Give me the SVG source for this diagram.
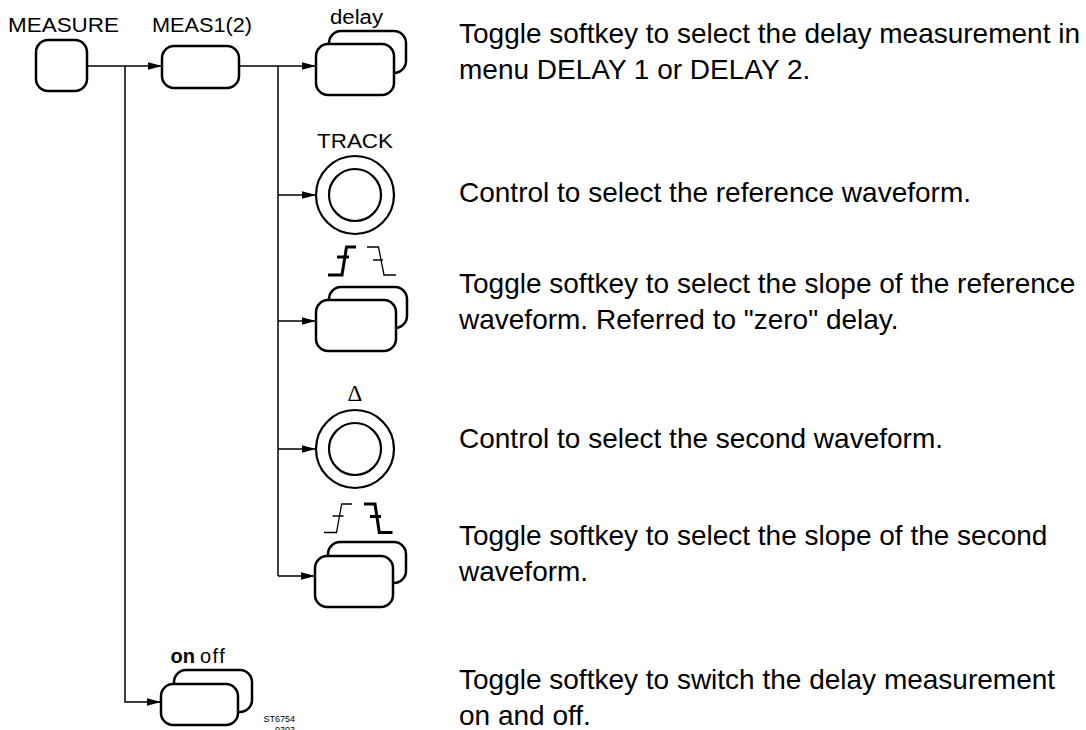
<svg xmlns="http://www.w3.org/2000/svg" width="1086" height="730" viewBox="0 0 1086 730">
<style>
.bx{fill:#fff;stroke:#000;stroke-width:2.5}
.kn{fill:#fff;stroke:#000;stroke-width:2.2}
.ln{fill:none;stroke:#000;stroke-width:1.5}
.sl{fill:none;stroke:#000;stroke-width:1.3;stroke-linejoin:miter}
.slb{fill:none;stroke:#000;stroke-width:3;stroke-linejoin:miter}
.lb{font-family:"Liberation Sans",Arial,sans-serif;font-size:20px;fill:#000}
.tx{font-family:"Liberation Sans",Arial,sans-serif;font-size:28px;fill:#000}
.sm{font-family:"Liberation Sans",Arial,sans-serif;font-size:9px;fill:#000}
</style>
<defs>
<marker id="ar" markerUnits="userSpaceOnUse" markerWidth="15" markerHeight="9" refX="14" refY="4.5" orient="auto">
<path d="M0,0.8 L14,4.5 L0,8.2 z" fill="#000"/>
</marker>
</defs>
<rect width="1086" height="730" fill="#fff"/>

<g id="connectors">
<line class="ln" x1="87" y1="66" x2="162" y2="66" marker-end="url(#ar)"/>
<path class="ln" d="M125,66 V702 H161" marker-end="url(#ar)"/>
<line class="ln" x1="239" y1="66" x2="316" y2="66" marker-end="url(#ar)"/>
<line class="ln" x1="278" y1="66" x2="278" y2="576"/>
<line class="ln" x1="278" y1="195" x2="316" y2="195" marker-end="url(#ar)"/>
<line class="ln" x1="278" y1="321" x2="316" y2="321" marker-end="url(#ar)"/>
<line class="ln" x1="278" y1="449" x2="316" y2="449" marker-end="url(#ar)"/>
<line class="ln" x1="278" y1="576" x2="315" y2="576" marker-end="url(#ar)"/>
</g>

<g id="measure">
<text class="lb" x="8" y="32" textLength="111" lengthAdjust="spacingAndGlyphs">MEASURE</text>
<rect class="bx" x="36" y="40" width="51" height="51" rx="12"/>
</g>

<g id="meas12">
<text class="lb" x="152" y="32" textLength="100" lengthAdjust="spacingAndGlyphs">MEAS1(2)</text>
<rect class="bx" x="162" y="46" width="77" height="42" rx="12"/>
</g>

<g id="delay">
<text class="lb" x="330" y="24" textLength="53" lengthAdjust="spacingAndGlyphs">delay</text>
<rect class="bx" x="329" y="31" width="77" height="42" rx="12"/>
<rect class="bx" x="316" y="44" width="78" height="51" rx="12"/>
</g>

<g id="track">
<text class="lb" x="317" y="148" font-size="21" textLength="76" lengthAdjust="spacingAndGlyphs">TRACK</text>
<circle class="kn" cx="355" cy="195" r="39"/>
<circle class="kn" cx="355" cy="195" r="26"/>
</g>

<g id="slope-ref">
<path class="slb" d="M328,275 H342 L346.5,247 H356 M337,257 H349"/>
<path class="sl" d="M367,247 H378.5 L384,275 H396 M373,260 H383"/>
<rect class="bx" x="329" y="287" width="78" height="41" rx="12"/>
<rect class="bx" x="316" y="300" width="80" height="51" rx="12"/>
</g>

<g id="delta">
<text x="355" y="401" text-anchor="middle" font-family="Liberation Serif,Times New Roman,serif" font-size="23" fill="#000">Δ</text>
<circle class="kn" cx="355" cy="449" r="39"/>
<circle class="kn" cx="355" cy="449" r="26"/>
</g>

<g id="slope-second">
<path class="sl" d="M324,532.5 H336.5 L341.7,504 H352 M332.5,516 H343.5"/>
<path class="slb" d="M364,504 H375 L379.3,532.5 H392.5 M370,516.5 H381"/>
<rect class="bx" x="328" y="542" width="78" height="41" rx="12"/>
<rect class="bx" x="315" y="556" width="78" height="51" rx="12"/>
</g>

<g id="onoff">
<text class="lb" x="170.5" y="663" font-size="21"><tspan font-weight="bold">on</tspan><tspan x="200" letter-spacing="1.5">off</tspan></text>
<rect class="bx" x="174" y="670" width="78" height="42" rx="12"/>
<rect class="bx" x="161" y="684" width="77" height="41" rx="12"/>
</g>

<g id="code">
<text class="sm" x="295" y="722" text-anchor="end">ST6754</text>
<text class="sm" x="295" y="733" text-anchor="end">9303</text>
</g>

<g id="descriptions">
<text class="tx" x="459" y="43">Toggle softkey to select the delay measurement in</text>
<text class="tx" x="459" y="79">menu DELAY 1 or DELAY 2.</text>
<text class="tx" x="459" y="202">Control to select the reference waveform.</text>
<text class="tx" x="459" y="293">Toggle softkey to select the slope of the reference</text>
<text class="tx" x="459" y="329">waveform. Referred to "zero" delay.</text>
<text class="tx" x="459" y="448">Control to select the second waveform.</text>
<text class="tx" x="459" y="545">Toggle softkey to select the slope of the second</text>
<text class="tx" x="459" y="581">waveform.</text>
<text class="tx" x="459" y="689">Toggle softkey to switch the delay measurement</text>
<text class="tx" x="459" y="725">on and off.</text>
</g>
</svg>
